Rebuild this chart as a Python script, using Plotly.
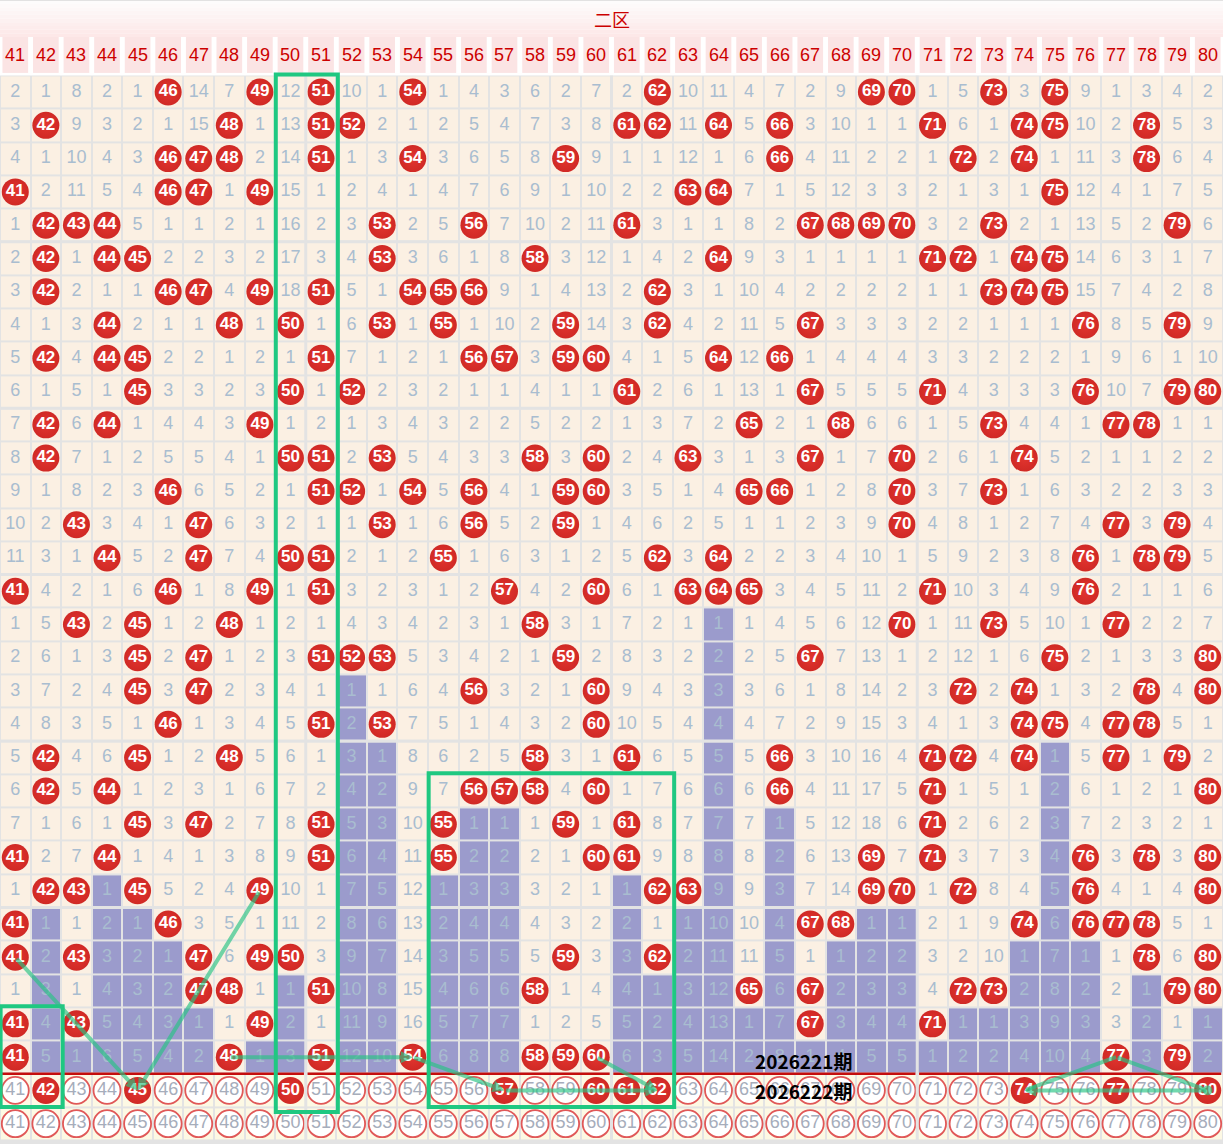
import plotly.graph_objects as go

# 二区号码 41-80
COLS = list(range(41, 81))

# 每期遗漏值，值等于号码本身的格子为开出号码
ROWS = [
    "2 1 8 2 1 46 14 7 49 12 51 10 1 54 1 4 3 6 2 7 2 62 10 11 4 7 2 9 69 70 1 5 73 3 75 9 1 3 4 2",
    "3 42 9 3 2 1 15 48 1 13 51 52 2 1 2 5 4 7 3 8 61 62 11 64 5 66 3 10 1 1 71 6 1 74 75 10 2 78 5 3",
    "4 1 10 4 3 46 47 48 2 14 51 1 3 54 3 6 5 8 59 9 1 1 12 1 6 66 4 11 2 2 1 72 2 74 1 11 3 78 6 4",
    "41 2 11 5 4 46 47 1 49 15 1 2 4 1 4 7 6 9 1 10 2 2 63 64 7 1 5 12 3 3 2 1 3 1 75 12 4 1 7 5",
    "1 42 43 44 5 1 1 2 1 16 2 3 53 2 5 56 7 10 2 11 61 3 1 1 8 2 67 68 69 70 3 2 73 2 1 13 5 2 79 6",
    "2 42 1 44 45 2 2 3 2 17 3 4 53 3 6 1 8 58 3 12 1 4 2 64 9 3 1 1 1 1 71 72 1 74 75 14 6 3 1 7",
    "3 42 2 1 1 46 47 4 49 18 51 5 1 54 55 56 9 1 4 13 2 62 3 1 10 4 2 2 2 2 1 1 73 74 75 15 7 4 2 8",
    "4 1 3 44 2 1 1 48 1 50 1 6 53 1 55 1 10 2 59 14 3 62 4 2 11 5 67 3 3 3 2 2 1 1 1 76 8 5 79 9",
    "5 42 4 44 45 2 2 1 2 1 51 7 1 2 1 56 57 3 59 60 4 1 5 64 12 66 1 4 4 4 3 3 2 2 2 1 9 6 1 10",
    "6 1 5 1 45 3 3 2 3 50 1 52 2 3 2 1 1 4 1 1 61 2 6 1 13 1 67 5 5 5 71 4 3 3 3 76 10 7 79 80",
    "7 42 6 44 1 4 4 3 49 1 2 1 3 4 3 2 2 5 2 2 1 3 7 2 65 2 1 68 6 6 1 5 73 4 4 1 77 78 1 1",
    "8 42 7 1 2 5 5 4 1 50 51 2 53 5 4 3 3 58 3 60 2 4 63 3 1 3 67 1 7 70 2 6 1 74 5 2 1 1 2 2",
    "9 1 8 2 3 46 6 5 2 1 51 52 1 54 5 56 4 1 59 60 3 5 1 4 65 66 1 2 8 70 3 7 73 1 6 3 2 2 3 3",
    "10 2 43 3 4 1 47 6 3 2 1 1 53 1 6 56 5 2 59 1 4 6 2 5 1 1 2 3 9 70 4 8 1 2 7 4 77 3 79 4",
    "11 3 1 44 5 2 47 7 4 50 51 2 1 2 55 1 6 3 1 2 5 62 3 64 2 2 3 4 10 1 5 9 2 3 8 76 1 78 79 5",
    "41 4 2 1 6 46 1 8 49 1 51 3 2 3 1 2 57 4 2 60 6 1 63 64 65 3 4 5 11 2 71 10 3 4 9 76 2 1 1 6",
    "1 5 43 2 45 1 2 48 1 2 1 4 3 4 2 3 1 58 3 1 7 2 1 1 1 4 5 6 12 70 1 11 73 5 10 1 77 2 2 7",
    "2 6 1 3 45 2 47 1 2 3 51 52 53 5 3 4 2 1 59 2 8 3 2 2 2 5 67 7 13 1 2 12 1 6 75 2 1 3 3 80",
    "3 7 2 4 45 3 47 2 3 4 1 1 1 6 4 56 3 2 1 60 9 4 3 3 3 6 1 8 14 2 3 72 2 74 1 3 2 78 4 80",
    "4 8 3 5 1 46 1 3 4 5 51 2 53 7 5 1 4 3 2 60 10 5 4 4 4 7 2 9 15 3 4 1 3 74 75 4 77 78 5 1",
    "5 42 4 6 45 1 2 48 5 6 1 3 1 8 6 2 5 58 3 1 61 6 5 5 5 66 3 10 16 4 71 72 4 74 1 5 77 1 79 2",
    "6 42 5 44 1 2 3 1 6 7 2 4 2 9 7 56 57 58 4 60 1 7 6 6 6 66 4 11 17 5 71 1 5 1 2 6 1 2 1 80",
    "7 1 6 1 45 3 47 2 7 8 51 5 3 10 55 1 1 1 59 1 61 8 7 7 7 1 5 12 18 6 71 2 6 2 3 7 2 3 2 1",
    "41 2 7 44 1 4 1 3 8 9 51 6 4 11 55 2 2 2 1 60 61 9 8 8 8 2 6 13 69 7 71 3 7 3 4 76 3 78 3 80",
    "1 42 43 1 45 5 2 4 49 10 1 7 5 12 1 3 3 3 2 1 1 62 63 9 9 3 7 14 69 70 1 72 8 4 5 76 4 1 4 80",
    "41 1 1 2 1 46 3 5 1 11 2 8 6 13 2 4 4 4 3 2 2 1 1 10 10 4 67 68 1 1 2 1 9 74 6 76 77 78 5 1",
    "41 2 43 3 2 1 47 6 49 50 3 9 7 14 3 5 5 5 59 3 3 62 2 11 11 5 1 1 2 2 3 2 10 1 7 1 1 78 6 80",
    "1 3 1 4 3 2 47 48 1 1 51 10 8 15 4 6 6 58 1 4 4 1 3 12 65 6 67 2 3 3 4 72 73 2 8 2 2 1 79 80",
    "41 4 43 5 4 3 1 1 49 2 1 11 9 16 5 7 7 1 2 5 5 2 4 13 1 7 67 3 4 4 71 1 1 3 9 3 3 2 1 1",
    "41 5 1 6 5 4 2 48 1 3 51 12 10 54 6 8 8 58 59 60 6 3 5 14 2 8 1 4 5 5 1 2 2 4 10 4 77 3 79 2",
]

# 预选行里标红的号码
PICKED = [42, 45, 50, 57, 60, 61, 62, 74, 77, 80]

ISSUES = ["2026221期", "2026222期"]

# 绿色框: (起始号码, 结束号码, 起始行, 结束行)，行号从1开始
BOXES = [(41, 42, 29, 31), (50, 51, 1, 31), (55, 62, 22, 31)]

# 连线: ((号码, 行), (号码, 行), 箭头样式)
LINKS = [
    ((41, 27), (45, 31), 2),
    ((49, 25), (45, 31), 2),
    ((48, 30), (54, 30), 2),
    ((54, 30), (57, 31), 2),
    ((57, 31), (62, 31), 2),
    ((60, 30), (62, 31), 2),
    ((74, 31), (77, 30), 0),
    ((77, 30), (80, 31), 6),
    ((80, 31), (74, 31), 2),
]

FONT = "Liberation Sans, Arial, sans-serif"
CREAM = "#fbf0e3"
PURPLE = "#9b9bcc"
YELLOW = "#fdf9e4"
GRID = "#e3e3e3"
MISS_COLOR = "#a9bdd0"
BALL = "#d02925"
BALL_CENTER = "#e2352f"
GREEN = "#1fc881"
LINK_GREEN = "rgba(40,196,132,0.65)"

ncol = len(COLS)
grid = [[int(v) for v in s.split()] for s in ROWS]
nrow = len(grid)


def cx(num):
    return COLS.index(num) + 0.5


def cy(row):
    return row - 0.5


# 每列最后一次开出的位置，之后的遗漏用紫色显示
last_hit = []
for ci, c in enumerate(COLS):
    hits = [r for r in range(nrow) if grid[r][ci] == c]
    last_hit.append(max(hits) if hits else -1)

z = []
for r in range(nrow):
    z.append([1 if r > last_hit[ci] else 0 for ci in range(ncol)])
z.append([2] * ncol)
z.append([2] * ncol)

miss_x, miss_y, miss_t = [], [], []
hit_x, hit_y, hit_t = [], [], []
ring_x, ring_y, ring_t = [], [], []
for r in range(nrow):
    for ci, c in enumerate(COLS):
        v = grid[r][ci]
        if v == c:
            hit_x.append(ci + 0.5)
            hit_y.append(r + 0.5)
            hit_t.append(str(c))
        else:
            miss_x.append(ci + 0.5)
            miss_y.append(r + 0.5)
            miss_t.append(str(v))

# 预选行和号码行
for ci, c in enumerate(COLS):
    if c in PICKED:
        hit_x.append(ci + 0.5)
        hit_y.append(nrow + 0.5)
        hit_t.append(str(c))
    else:
        ring_x.append(ci + 0.5)
        ring_y.append(nrow + 0.5)
        ring_t.append(str(c))
    ring_x.append(ci + 0.5)
    ring_y.append(nrow + 1.5)
    ring_t.append(str(c))

fig = go.Figure()

fig.add_trace(go.Heatmap(
    z=z, x0=0.5, dx=1, y0=0.5, dy=1,
    zmin=0, zmax=2, showscale=False, xgap=2, ygap=2,
    colorscale=[[0, CREAM], [0.333, CREAM], [0.333, PURPLE], [0.667, PURPLE],
                [0.667, YELLOW], [1, YELLOW]],
    hoverinfo="skip",
))

fig.add_trace(go.Scatter(
    x=miss_x, y=miss_y, text=miss_t, mode="text",
    textfont=dict(family=FONT, size=18, color=MISS_COLOR),
    hoverinfo="skip",
))

fig.add_trace(go.Scatter(
    x=ring_x, y=ring_y, text=ring_t, mode="markers+text",
    marker=dict(size=27, color="white", line=dict(color="#e05858", width=1.8)),
    textfont=dict(family=FONT, size=18, color="#a6adbb"),
    hoverinfo="skip",
))

fig.add_trace(go.Scatter(
    x=hit_x, y=hit_y, text=hit_t, mode="markers+text",
    marker=dict(size=27, color=BALL, line=dict(width=0),
                gradient=dict(type="radial", color=BALL_CENTER)),
    textfont=dict(family=FONT, size=17, color="white", weight="bold"),
    hoverinfo="skip",
))

shapes = []
top = -2.266
head_mid = -1.154
# 表头背景
shapes.append(dict(type="rect", x0=0, x1=ncol, y0=top - 0.2, y1=0, layer="below",
                   fillcolor="white", line=dict(width=0)))
steps = 10
for i in range(steps):
    t = (i + 1) / steps
    g = int(255 - (255 - 232) * t)
    b = int(255 - (255 - 232) * t)
    shapes.append(dict(type="rect", x0=0, x1=ncol,
                       y0=top + (head_mid - top) * i / steps,
                       y1=top + (head_mid - top) * (i + 1) / steps,
                       layer="below", fillcolor=f"rgb(253,{g},{b})", line=dict(width=0)))
for ci in range(ncol):
    shapes.append(dict(type="rect", x0=ci + 0.08, x1=ci + 0.92, y0=head_mid, y1=-0.075,
                       layer="below", fillcolor="#fbe4e4", line=dict(width=0)))
shapes.append(dict(type="line", x0=0, x1=ncol, y0=top, y1=top,
                   line=dict(color="#e2e2e2", width=2)))

# 分组线
for gx in range(10, ncol, 10):
    shapes.append(dict(type="line", x0=gx, x1=gx, y0=0, y1=nrow + 2,
                       line=dict(color=GRID, width=3)))
for gy in range(5, nrow, 5):
    shapes.append(dict(type="line", x0=0, x1=ncol, y0=gy, y1=gy,
                       line=dict(color=GRID, width=3)))

# 红色分隔线
for gx in range(0, ncol, 10):
    shapes.append(dict(type="line", x0=gx + 0.06, x1=gx + 9.94, y0=nrow, y1=nrow,
                       line=dict(color="#c40d0d", width=2.5)))

# 绿色框
for c0, c1, r0, r1 in BOXES:
    shapes.append(dict(type="rect",
                       x0=COLS.index(c0) + 0.02, x1=COLS.index(c1) + 1.05,
                       y0=r0 - 1.03, y1=r1 + (0.15 if r0 == 1 else 0),
                       line=dict(color=GREEN, width=4)))

annotations = []
for (n0, r0), (n1, r1), head in LINKS:
    annotations.append(dict(
        x=cx(n1), y=cy(r1), ax=cx(n0), ay=cy(r0), axref="x", ayref="y",
        xref="x", yref="y", text="", showarrow=True,
        arrowhead=head, arrowsize=0.6, arrowwidth=4, arrowcolor=LINK_GREEN,
    ))

annotations.append(dict(x=ncol / 2, y=(top + head_mid) / 2, xref="x", yref="y",
                        text="二区", showarrow=False,
                        font=dict(family="Noto Sans CJK SC", size=18, color="#cc0000")))
for ci, c in enumerate(COLS):
    annotations.append(dict(x=ci + 0.5, y=(head_mid - 0.075) / 2, xref="x", yref="y",
                            text=str(c), showarrow=False,
                            font=dict(family=FONT, size=18, color="#cc0000")))

for i, name in enumerate(ISSUES):
    annotations.append(dict(x=COLS.index(67) + 0.28, y=nrow - 0.4 + 0.9 * i,
                            xref="x", yref="y", text=f"<b>{name}</b>", showarrow=False,
                            font=dict(family="Noto Sans CJK SC", size=19, color="black")))

fig.update_layout(
    width=1223, height=1144,
    margin=dict(l=0, r=0, t=0, b=0),
    paper_bgcolor="white", plot_bgcolor=GRID,
    showlegend=False,
    shapes=shapes, annotations=annotations,
    xaxis=dict(range=[0, ncol], visible=False, fixedrange=True),
    yaxis=dict(range=[nrow + 2.11, top], visible=False, fixedrange=True),
)

fig.write_html("out.html", config={"displayModeBar": False},
               post_script="document.body.style.margin='0px';")
